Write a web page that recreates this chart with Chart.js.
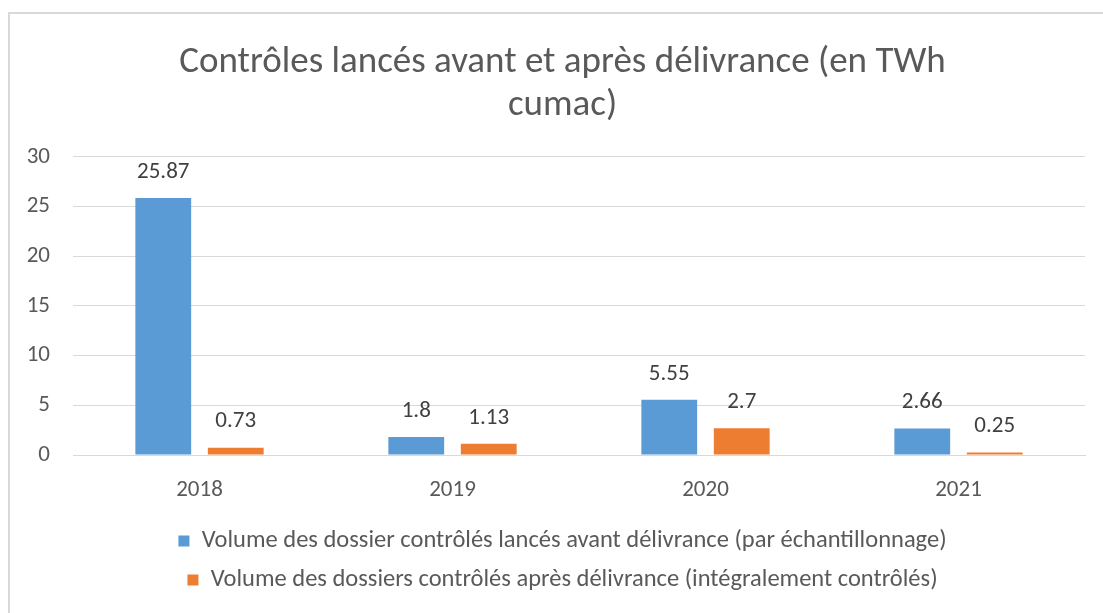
<!DOCTYPE html>
<html>
<head>
<meta charset="utf-8">
<script src="https://cdn.jsdelivr.net/npm/chart.js@4/dist/chart.umd.min.js"></script>
<style>
  body { margin: 0; background: #fff; }
  #frame { position: absolute; left: 8px; top: 12px; width: 1200px; height: 700px;
           border-top: 2px solid #d9d9d9; border-left: 2px solid #d9d9d9; }
  #wrap { position: absolute; left: 0; top: 0; width: 1103px; height: 613px; }
</style>
</head>
<body>
<div id="frame"></div>
<div id="wrap"><canvas id="chart"></canvas></div>
<script>
// Données
const annees = ['2018', '2019', '2020', '2021'];
const avantDelivrance = [25.87, 1.8, 5.55, 2.66];
const apresDelivrance = [0.73, 1.13, 2.7, 0.25];
const titre = ['Contrôles lancés avant et après délivrance (en TWh', 'cumac)'];
const legendeAvant = 'Volume des dossier contrôlés lancés avant délivrance (par échantillonnage)';
const legendeApres = 'Volume des dossiers contrôlés après délivrance (intégralement contrôlés)';

const police = "Carlito, 'Liberation Sans', 'DejaVu Sans', sans-serif";

// Etiquettes de valeurs au-dessus des barres
const etiquettes = {
    id: 'etiquettes',
    afterDatasetsDraw(chart) {
        const ctx = chart.ctx;
        ctx.save();
        ctx.font = '23px ' + police;
        ctx.fillStyle = '#404040';
        ctx.textAlign = 'center';
        ctx.textBaseline = 'middle';
        chart.data.datasets.forEach((ds, i) => {
            chart.getDatasetMeta(i).data.forEach((bar, j) => {
                ctx.fillText(String(ds.data[j]), bar.x, bar.y - 26);
            });
        });
        ctx.restore();
    }
};

new Chart(document.getElementById('chart').getContext('2d'), {
    type: 'bar',
    data: {
        labels: annees,
        datasets: [{
            label: legendeAvant,
            data: avantDelivrance,
            backgroundColor: '#5b9bd5',
            categoryPercentage: 0.573,
            barPercentage: 0.77
        }, {
            label: legendeApres,
            data: apresDelivrance,
            backgroundColor: '#ed7d31',
            categoryPercentage: 0.573,
            barPercentage: 0.77
        }]
    },
    options: {
        responsive: true,
        maintainAspectRatio: false,
        animation: false,
        layout: { padding: { left: 26, right: 4, top: 42, bottom: 10.75 } },
        plugins: {
            title: {
                display: true,
                text: titre,
                color: '#595959',
                font: { family: police, size: 37, weight: 'normal', lineHeight: 1.14 },
                padding: { top: 0, bottom: 30.6 }
            },
            legend: {
                position: 'bottom',
                labels: {
                    color: '#595959',
                    font: { family: police, size: 24.5 },
                    boxWidth: 11,
                    boxHeight: 11,
                    padding: 14.5
                }
            },
            tooltip: { enabled: false }
        },
        scales: {
            x: {
                afterFit: (scale) => { scale.height = 59.25; },
                grid: { display: false, drawTicks: false },
                border: { color: '#d9d9d9', width: 1 },
                ticks: { color: '#595959', font: { family: police, size: 23 }, padding: 21.2 }
            },
            y: {
                min: 0,
                max: 30,
                afterFit: (scale) => { scale.width = 47; },
                ticks: { stepSize: 5, color: '#595959', font: { family: police, size: 23 }, padding: 23 },
                grid: { color: '#d9d9d9', drawTicks: false },
                border: { display: false }
            },
            // marge droite vide pour centrer titre et légende comme l'original
            marge: {
                type: 'linear',
                position: 'right',
                afterFit: (scale) => { scale.width = 14; },
                ticks: { display: false },
                grid: { display: false },
                border: { display: false }
            }
        }
    },
    plugins: [etiquettes]
});
</script>
</body>
</html>
